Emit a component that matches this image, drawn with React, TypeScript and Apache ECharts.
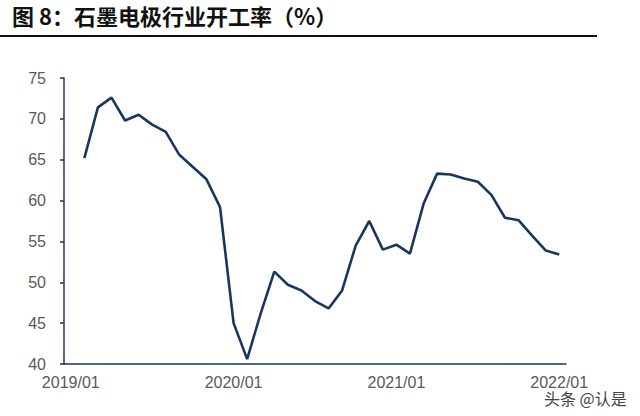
import React, { useEffect, useRef } from "react";
import * as echarts from "echarts";

const titleText = "图 8：石墨电极行业开工率（%）";
const watermark = "头条 @认是";

const months: string[] = [
  "2019/01", "2019/02", "2019/03", "2019/04", "2019/05", "2019/06", "2019/07", "2019/08", "2019/09", "2019/10", "2019/11", "2019/12",
  "2020/01", "2020/02", "2020/03", "2020/04", "2020/05", "2020/06", "2020/07", "2020/08", "2020/09", "2020/10", "2020/11", "2020/12",
  "2021/01", "2021/02", "2021/03", "2021/04", "2021/05", "2021/06", "2021/07", "2021/08", "2021/09", "2021/10", "2021/11", "2021/12",
  "2022/01",
];

const utilization: (number | null)[] = [
  null, 65.2, 71.4, 72.6, 69.8, 70.5, 69.3, 68.4, 65.6, 64.1, 62.6, 59.2,
  45.0, 40.6, 46.2, 51.3, 49.7, 49.0, 47.7, 46.8, 49.0, 54.5, 57.5, 54.0,
  54.6, 53.5, 59.6, 63.3, 63.2, 62.7, 62.3, 60.7, 57.9, 57.6, 55.7, 53.9,
  53.4,
];

const yMin = 40;
const yMax = 75;
const yStep = 5;

export default function App() {
  const ref = useRef<HTMLDivElement>(null);
  useEffect(() => {
    if (!ref.current) return;
    const chart = echarts.init(ref.current, undefined, { renderer: "svg" });
    const navy = "#1a3660";
    chart.setOption({
      animation: false,
      backgroundColor: "#ffffff",
      grid: { left: 64, right: 74, top: 78, bottom: 52 },
      xAxis: {
        type: "category",
        data: months,
        boundaryGap: true,
        axisLine: { show: true, lineStyle: { color: navy, width: 1.5 } },
        axisTick: { show: false },
        axisLabel: {
          interval: 11,
          color: "#595959",
          fontSize: 16,
          fontFamily: "Liberation Sans, Arial, sans-serif",
          margin: 10,
        },
        splitLine: { show: false },
      },
      yAxis: {
        type: "value",
        min: yMin,
        max: yMax,
        interval: yStep,
        axisLine: { show: true, lineStyle: { color: navy, width: 1.5 } },
        axisTick: { show: true, length: 4, lineStyle: { color: navy, width: 1.5 } },
        axisLabel: {
          color: "#595959",
          fontSize: 16,
          fontFamily: "Liberation Sans, Arial, sans-serif",
          margin: 18,
        },
        splitLine: { show: false },
      },
      series: [
        {
          type: "line",
          data: utilization,
          showSymbol: false,
          connectNulls: false,
          lineStyle: { color: navy, width: 2.6 },
          itemStyle: { color: navy },
        },
      ],
      graphic: [
        {
          type: "text",
          left: 12,
          top: 4,
          style: {
            text: titleText,
            fontSize: 22,
            fontWeight: "bold",
            fontFamily: "Noto Sans CJK SC, sans-serif",
            fill: "#111111",
          },
        },
        {
          type: "line",
          shape: { x1: 0, y1: 36, x2: 597, y2: 36 },
          style: { stroke: "#111111", lineWidth: 2 },
        },
        {
          type: "text",
          left: 543,
          top: 389,
          style: {
            text: watermark,
            fontSize: 16,
            fontFamily: "Noto Sans CJK SC, sans-serif",
            fill: "#444444",
            stroke: "#ffffff",
            lineWidth: 2,
          },
        },
      ],
    });
    return () => chart.dispose();
  }, []);
  return (
    <div
      ref={ref}
      style={{ position: "fixed", left: 0, top: 0, width: 640, height: 416 }}
    />
  );
}
